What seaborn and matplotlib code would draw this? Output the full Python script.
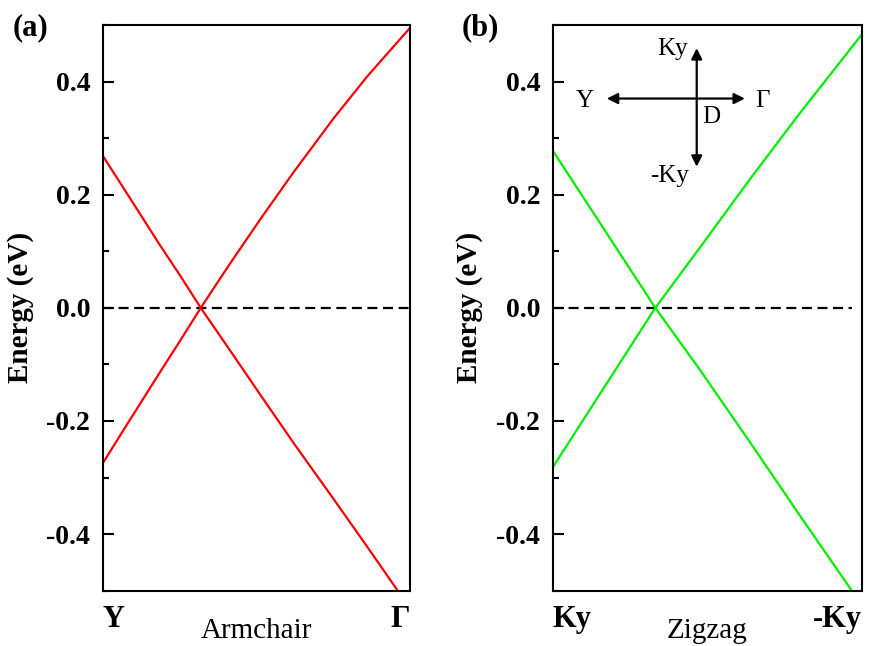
import numpy as np
import pandas as pd
import matplotlib
matplotlib.use("Agg")
import matplotlib.pyplot as plt
import seaborn as sns
from matplotlib.ticker import MultipleLocator

# ---------------- data ----------------
arm_k_down = [0, 0.078, 0.132, 0.186, 0.252, 0.319, 0.414, 0.512, 0.620, 0.750, 0.859, 0.960]
arm_E_down = [0.269, 0.203, 0.157, 0.111, 0.057, 0.0, -0.075, -0.153, -0.238, -0.337, -0.421, -0.500]
arm_k_up = [0, 0.056, 0.121, 0.186, 0.252, 0.319, 0.414, 0.512, 0.620, 0.750, 0.859, 1.0]
arm_E_up = [-0.275, -0.226, -0.170, -0.114, -0.058, 0.0, 0.078, 0.156, 0.239, 0.334, 0.408, 0.495]

zz_k_down = [0, 0.153, 0.332, 0.477, 0.639, 0.801, 0.968]
zz_E_down = [0.278, 0.150, 0.0, -0.110, -0.238, -0.368, -0.500]
zz_k_up = [0, 0.153, 0.332, 0.477, 0.639, 0.801, 1.0]
zz_E_up = [-0.282, -0.152, 0.0, 0.107, 0.228, 0.345, 0.483]

arm_fermi_k = [0, 1.0]
zz_fermi_k = [0, 0.968]

arm_ticklabels = ["Y", "Γ"]
zz_ticklabels = ["Ky", "-Ky"]
xlabels = ["Armchair", "Zigzag"]
panel_labels = ["(a)", "(b)"]
yticks = [-0.4, -0.2, 0.0, 0.2, 0.4]
ytick_labels = ["-0.4", "-0.2", "0.0", "0.2", "0.4"]

# ---------------- style ----------------
sns.set_style("ticks")
plt.rcParams["font.family"] = ["Liberation Serif", "DejaVu Serif"]
plt.rcParams["text.color"] = "black"
plt.rcParams["axes.labelcolor"] = "black"
plt.rcParams["xtick.color"] = "black"
plt.rcParams["ytick.color"] = "black"

fig = plt.figure(figsize=(8.75, 6.46), dpi=100)
ax1 = fig.add_axes([0.1174, 0.0856, 0.3512, 0.8757])
ax2 = fig.add_axes([0.6317, 0.0856, 0.3531, 0.8757])


def make_df(kd, Ed, ku, Eu):
    return pd.DataFrame({
        "k": list(kd) + list(ku),
        "E": list(Ed) + list(Eu),
        "band": ["down"] * len(kd) + ["up"] * len(ku),
    })


df1 = make_df(arm_k_down, arm_E_down, arm_k_up, arm_E_up)
df2 = make_df(zz_k_down, zz_E_down, zz_k_up, zz_E_up)

sns.lineplot(data=df1, x="k", y="E", units="band", estimator=None, sort=False,
             color="#ff0000", lw=1.6, ax=ax1, legend=False)
sns.lineplot(data=df2, x="k", y="E", units="band", estimator=None, sort=False,
             color="#00ee00", lw=1.6, ax=ax2, legend=False)

ax1.plot(arm_fermi_k, [0, 0], color="black", lw=1.6, ls=(0, (4.5, 2.5)), zorder=1)
ax2.plot(zz_fermi_k, [0, 0], color="black", lw=1.6, ls=(0, (4.5, 2.5)), zorder=1)

for ax, tl, xl in [(ax1, arm_ticklabels, xlabels[0]), (ax2, zz_ticklabels, xlabels[1])]:
    ax.set_xlim(0, 1)
    ax.set_ylim(-0.5, 0.5)
    ax.set_yticks(yticks)
    ax.set_yticklabels(ytick_labels, fontsize=20, fontweight="bold", color="black")
    ax.yaxis.set_minor_locator(MultipleLocator(0.1))
    ax.tick_params(axis="y", which="major", direction="in", length=8, width=1.5, pad=9,
                   color="black")
    ax.tick_params(axis="y", which="minor", direction="in", length=4.5, width=1.5,
                   color="black")
    ax.set_xticks([0, 1])
    ax.set_xticklabels(tl, fontsize=22, fontweight="bold", color="black")
    ax.tick_params(axis="x", which="both", length=0, pad=10)
    for spine in ax.spines.values():
        spine.set_visible(True)
        spine.set_linewidth(1.5)
        spine.set_color("black")
    ax.set_ylabel("Energy (eV)", fontsize=21, fontweight="bold", color="black")
    ax.yaxis.set_label_coords(-0.225, 0.5)
    ax.set_xlabel(xl, fontsize=21, color="black")
    ax.xaxis.set_label_coords(0.5, -0.048)

# tick label alignment (labels sit inside ends)
lbls = ax1.get_xticklabels()
lbls[0].set_ha("left"); lbls[1].set_ha("right")
lbls = ax2.get_xticklabels()
lbls[0].set_ha("left"); lbls[1].set_ha("right")

fig.text(0.0149, 0.9458, panel_labels[0], fontsize=22, fontweight="bold", va="baseline",
         ha="left", color="black")
fig.text(0.528, 0.9458, panel_labels[1], fontsize=22, fontweight="bold", va="baseline",
         ha="left", color="black")

# inset direction diagram in panel (b)
arrow_kw = dict(arrowstyle="<|-|>", color="black", lw=1.6, mutation_scale=16, shrinkA=0, shrinkB=0)
ax2.annotate("", xy=(0.175, 0.870), xytext=(0.622, 0.870), xycoords="axes fraction",
             textcoords="axes fraction", arrowprops=arrow_kw)
ax2.annotate("", xy=(0.466, 0.959), xytext=(0.466, 0.7495), xycoords="axes fraction",
             textcoords="axes fraction", arrowprops=arrow_kw)
inset_kw = dict(transform=ax2.transAxes, fontsize=18, ha="center", va="center", color="black")
ax2.text(0.387, 0.957, "Ky", **inset_kw)
ax2.text(0.105, 0.866, "Y", **inset_kw)
ax2.text(0.680, 0.866, "Γ", **inset_kw)
ax2.text(0.514, 0.838, "D", **inset_kw)
ax2.text(0.377, 0.733, "-Ky", **inset_kw)

fig.savefig("out.png", dpi=100, facecolor="white")
